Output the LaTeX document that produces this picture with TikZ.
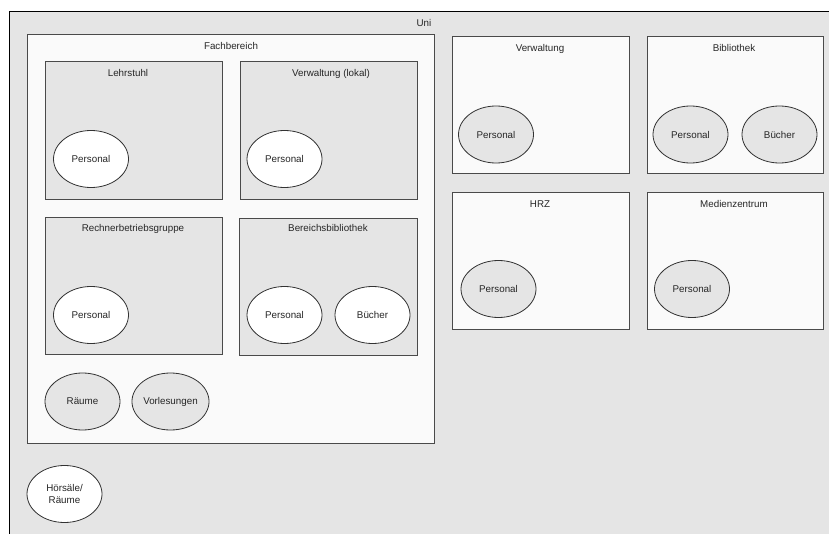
\documentclass[tikz,border=0pt]{standalone}
\usepackage{fontspec}
\setmainfont{Liberation Sans}
\usetikzlibrary{shapes.geometric}
\definecolor{unifill}{HTML}{E5E5E5}
\definecolor{lightbox}{HTML}{FAFAFA}
\definecolor{greybox}{HTML}{E5E5E5}
\definecolor{edge}{HTML}{4A4A4A}
\tikzset{
  lbl/.style={font=\fontsize{9.8}{11.5}\selectfont, text=black!85, inner sep=0pt, anchor=base},
  whitebox/.style={draw=edge, line width=0.9pt, fill=lightbox, rectangle, inner sep=0pt},
  darkbox/.style={draw=edge, line width=0.9pt, fill=greybox, rectangle, inner sep=0pt},
  oval/.style={ellipse, draw=black!80, line width=0.8pt, inner sep=0pt,
    minimum width=75pt, minimum height=57pt,
    font=\fontsize{9.8}{11.5}\selectfont, text=black!85, align=center},
  ovalw/.style={oval, fill=white},
  ovalg/.style={oval, fill=greybox},
}
\begin{document}
\begin{tikzpicture}[x=1pt, y=-1pt]
  \useasboundingbox (0,0) rectangle (829,534);
  \clip (0,0) rectangle (829,534);
  \fill[white] (0,0) rectangle (829,534);

  % university frame, open to the right and bottom
  \fill[unifill] (9.5,11.5) rectangle (840,545);
  \coordinate (uniTL) at (9.5,11.5);
  \coordinate (uniTR) at (840,11.5);
  \coordinate (uniBL) at (9.5,545);
  \draw[black, line width=1pt] (uniBL) -- (uniTL) -- (uniTR);
  \node[lbl] (uni) at (424,26.5) {Uni};

  % Fachbereich
  \node[whitebox, minimum width=407pt, minimum height=409pt] (fb) at (230.5,238.5) {};
  \node[lbl] (fbT) at (231,50) {Fachbereich};

  \node[darkbox, minimum width=177pt, minimum height=138pt] (ls) at (133.5,130) {};
  \node[lbl] (lsT) at (128,77) {Lehrstuhl};
  \node[ovalw] (lsP) at (91,159) {Personal};

  \node[darkbox, minimum width=177pt, minimum height=138pt] (vl) at (328.5,130) {};
  \node[lbl] (vlT) at (331,77) {Verwaltung (lokal)};
  \node[ovalw] (vlP) at (284.5,159) {Personal};

  \node[darkbox, minimum width=177pt, minimum height=137pt] (rbg) at (133.5,285.5) {};
  \node[lbl] (rbgT) at (133,232) {Rechnerbetriebsgruppe};
  \node[ovalw] (rbgP) at (91,315) {Personal};

  \node[darkbox, minimum width=178pt, minimum height=137pt] (bb) at (328,286.5) {};
  \node[lbl] (bbT) at (328,232) {Bereichsbibliothek};
  \node[ovalw] (bbP) at (284.5,315) {Personal};
  \node[ovalw] (bbB) at (372.5,315) {Bücher};

  \node[ovalg] (fbR) at (82.5,401.5) {Räume};
  \node[ovalg] (fbV) at (170.5,401.5) {Vorlesungen};

  \node[ovalw] (hs) at (64.5,494) {Hörsäle/\\Räume};

  % central units
  \node[whitebox, minimum width=177pt, minimum height=137pt] (vw) at (540.5,104.5) {};
  \node[lbl] (vwT) at (540,52) {Verwaltung};
  \node[ovalg] (vwP) at (496,134.5) {Personal};

  \node[whitebox, minimum width=176pt, minimum height=137pt] (bib) at (735,104.5) {};
  \node[lbl] (bibT) at (734,52) {Bibliothek};
  \node[ovalg] (bibP) at (690.5,134.5) {Personal};
  \node[ovalg] (bibB) at (779.5,134.5) {Bücher};

  \node[whitebox, minimum width=177pt, minimum height=137pt] (hrz) at (540.5,260.5) {};
  \node[lbl] (hrzT) at (540,208) {HRZ};
  \node[ovalg] (hrzP) at (498.5,289) {Personal};

  \node[whitebox, minimum width=176pt, minimum height=137pt] (mz) at (735,260.5) {};
  \node[lbl] (mzT) at (734,208) {Medienzentrum};
  \node[ovalg] (mzP) at (692,289) {Personal};
\end{tikzpicture}
\end{document}
